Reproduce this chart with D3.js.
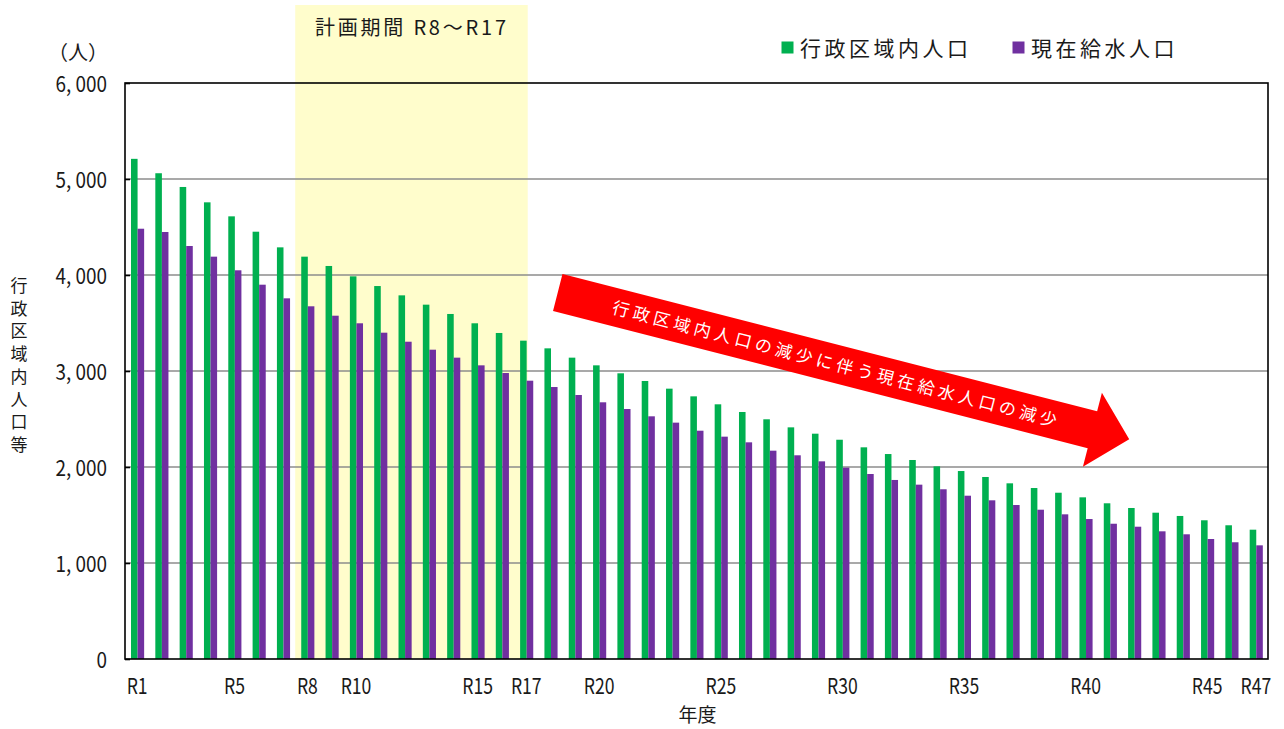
<!DOCTYPE html>
<html lang="ja">
<head>
<meta charset="utf-8">
<script src="https://cdn.jsdelivr.net/npm/d3@7"></script>
<style>
  html, body { margin: 0; padding: 0; background: #fff; }
  svg { display: block; }
  text { font-family: "Noto Sans CJK JP", "Noto Sans", sans-serif; fill: #1a1a1a; }
</style>
</head>
<body>
<svg id="chart" width="1284" height="729"></svg>
<script>
// 年度（令和）
const years = ["R1","R2","R3","R4","R5","R6","R7","R8","R9","R10",
  "R11","R12","R13","R14","R15","R16","R17","R18","R19","R20",
  "R21","R22","R23","R24","R25","R26","R27","R28","R29","R30",
  "R31","R32","R33","R34","R35","R36","R37","R38","R39","R40",
  "R41","R42","R43","R44","R45","R46","R47"];

// 行政区域内人口（人）
const adminPop = [5210,5060,4917,4757,4611,4451,4288,4191,4094,3986,
  3885,3788,3691,3594,3497,3396,3316,3236,3139,3059,
  2976,2896,2816,2736,2653,2573,2497,2413,2347,2284,
  2205,2135,2073,2007,1958,1896,1830,1781,1732,1684,
  1622,1573,1524,1490,1445,1393,1347];

// 現在給水人口（人）
const servedPop = [4482,4448,4302,4191,4049,3899,3757,3674,3576,3497,
  3399,3305,3222,3139,3059,2979,2899,2833,2750,2674,
  2604,2528,2462,2378,2316,2257,2170,2122,2059,1993,
  1927,1865,1816,1768,1701,1653,1604,1555,1507,1458,
  1409,1378,1330,1299,1250,1216,1184];

const xTickLabels = ["R1","R5","R8","R10","R15","R17","R20","R25","R30","R35","R40","R45","R47"];
const yTickValues = [0,1000,2000,3000,4000,5000,6000];
const seriesNames = ["行政区域内人口","現在給水人口"];
const planStart = "R8", planEnd = "R17";

const GREEN = "#00B050", PURPLE = "#7030A0";

const svg = d3.select("#chart");
const plotLeft = 125, plotRight = 1268, plotTop = 83, plotBottom = 659;

const x = d3.scaleBand().domain(years).range([plotLeft, plotRight]).paddingInner(0).paddingOuter(0);
const y = d3.scaleLinear().domain([0, 6000]).range([plotBottom, plotTop]);
const bw = x.bandwidth();
const barW = bw * 0.27;
const offA = bw * 0.247;
const offB = offA + barW;

// 計画期間の網掛け
const planX0 = x(planStart);
const planX1 = x(planEnd) + bw * 0.56;
svg.append("rect")
  .attr("x", planX0).attr("y", 5)
  .attr("width", planX1 - planX0).attr("height", plotBottom - 5)
  .attr("fill", "#FFFDCC");
svg.append("text")
  .attr("x", 315).attr("y", 35)
  .attr("font-size", 20)
  .attr("textLength", 191).attr("lengthAdjust", "spacing")
  .text("計画期間 R8～R17");

// 目盛線
svg.append("g").selectAll("line")
  .data(yTickValues.filter(v => v > 0 && v < 6000))
  .join("line")
  .attr("x1", plotLeft).attr("x2", plotRight)
  .attr("y1", d => y(d)).attr("y2", d => y(d))
  .attr("stroke", "#8c8c8c").attr("stroke-width", 1.6);

// 棒
const bars = svg.append("g");
bars.selectAll("rect.a").data(years).join("rect")
  .attr("class", "a")
  .attr("x", d => x(d) + offA).attr("width", barW)
  .attr("y", (d, i) => y(adminPop[i]))
  .attr("height", (d, i) => y(0) - y(adminPop[i]))
  .attr("fill", GREEN);
bars.selectAll("rect.b").data(years).join("rect")
  .attr("class", "b")
  .attr("x", d => x(d) + offB).attr("width", barW)
  .attr("y", (d, i) => y(servedPop[i]))
  .attr("height", (d, i) => y(0) - y(servedPop[i]))
  .attr("fill", PURPLE);

// 枠
svg.append("rect")
  .attr("x", plotLeft).attr("y", plotTop)
  .attr("width", plotRight - plotLeft).attr("height", plotBottom - plotTop)
  .attr("fill", "none").attr("stroke", "#000").attr("stroke-width", 1.6);

// Y軸
const yAxis = d3.axisLeft(y).tickValues(yTickValues).tickSize(-5).tickSizeOuter(0)
  .tickFormat(d => d === 0 ? "0" : d3.format(",")(d).replace(",", ", "));
const gy = svg.append("g").attr("transform", `translate(${plotLeft},0)`).call(yAxis);
gy.select(".domain").remove();
gy.selectAll(".tick line").attr("stroke", "#000").attr("stroke-width", 1.6);
gy.selectAll(".tick text")
  .attr("x", 0).attr("dy", null).attr("y", 0)
  .attr("font-size", 22)
  .attr("text-anchor", "end")
  .attr("fill", "#1a1a1a")
  .attr("transform", "translate(-18,8) scale(0.86,1)");

// X軸
const xAxis = d3.axisBottom(x).tickValues(xTickLabels).tickSize(0);
const gx = svg.append("g").attr("transform", `translate(0,${plotBottom})`).call(xAxis);
gx.select(".domain").remove();
gx.selectAll(".tick text")
  .attr("y", 0).attr("dy", null)
  .attr("font-size", 22)
  .attr("fill", "#1a1a1a")
  .attr("transform", "translate(0,35) scale(0.8,1)");

// 軸タイトル
svg.append("text")
  .attr("x", 108).attr("y", 60).attr("text-anchor", "end")
  .attr("font-size", 20).text("（人）");
svg.append("text")
  .attr("x", (plotLeft + plotRight) / 2 + 1).attr("y", 722).attr("text-anchor", "middle")
  .attr("font-size", 19).text("年度");
const yTitle = svg.append("g");
Array.from("行政区域内人口等").forEach((ch, i) => {
  yTitle.append("text")
    .attr("x", 19).attr("y", 292 + i * 22.7)
    .attr("text-anchor", "middle").attr("font-size", 17)
    .text(ch);
});

// 凡例
const legend = svg.append("g");
[[GREEN, 781.5, 800], [PURPLE, 1012.5, 1031]].forEach(([c, sx, tx], i) => {
  legend.append("rect").attr("x", sx).attr("y", 41.5).attr("width", 12).attr("height", 12).attr("fill", c);
  legend.append("text").attr("x", tx).attr("y", 56)
    .attr("font-size", 21).attr("letter-spacing", 3.5)
    .text(seriesNames[i]);
});

// 減少傾向を示す矢印
const arrowAngle = 14.4;
const arrow = svg.append("g")
  .attr("transform", `translate(557.75,292.5) rotate(${arrowAngle})`);
const shaftLen = 552, headLen = 38, shaftHalf = 19, headHalf = 38.2;
arrow.append("polygon")
  .attr("points", [
    [0, -shaftHalf], [shaftLen, -shaftHalf], [shaftLen, -headHalf],
    [shaftLen + headLen, 0], [shaftLen, headHalf], [shaftLen, shaftHalf], [0, shaftHalf]
  ].map(p => p.join(",")).join(" "))
  .attr("fill", "#FF0000");
arrow.append("text")
  .attr("x", 288).attr("y", 6.5)
  .attr("text-anchor", "middle")
  .attr("font-size", 17).attr("letter-spacing", 4)
  .style("fill", "#fff")
  .text("行政区域内人口の減少に伴う現在給水人口の減少");
</script>
</body>
</html>
